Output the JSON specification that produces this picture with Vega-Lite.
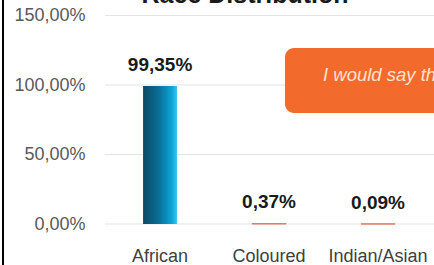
{
  "$schema": "https://vega.github.io/schema/vega-lite/v6.json",
  "width": 440,
  "height": 285,
  "autosize": {"type": "none"},
  "padding": {"left": 3, "top": -10, "right": 0, "bottom": 0},
  "background": "white",
  "title": {
    "text": "Race Distribution",
    "fontSize": 25,
    "font": "Liberation Sans",
    "fontWeight": "bold",
    "color": "#1a1a1a",
    "anchor": "middle",
    "frame": "group",
    "dx": 22,
    "offset": -38,
    "baseline": "alphabetic"
  },
  "datasets": {
    "race": [
      {"race": "African", "share": 0.9935},
      {"race": "Coloured", "share": 0.0037},
      {"race": "Indian/Asian", "share": 0.0009}
    ],
    "grid": [{"g": 0}, {"g": 0.5}, {"g": 1}, {"g": 1.5}]
  },
  "layer": [
    {
      "layer": [
        {
          "data": {"name": "grid"},
          "mark": {"type": "rule", "color": "#e3e3e3", "strokeWidth": 1},
          "encoding": {
            "y": {
              "field": "g",
              "type": "quantitative",
              "title": null,
              "scale": {"domain": [-0.3669, 1.6835], "nice": false, "zero": false},
              "axis": {
                "values": [0, 0.5, 1, 1.5],
                "format": ".2%",
                "orient": "left",
                "offset": -85,
                "domain": false,
                "ticks": false,
                "tickSize": 0,
                "labelPadding": 3,
                "labelFontSize": 18,
                "labelFont": "Liberation Sans",
                "labelColor": "#595959",
                "grid": false,
                "title": null
              }
            },
            "x": {"datum": 23.18, "type": "quantitative", "scale": {"domain": [0, 100], "nice": false, "zero": false}, "axis": null},
            "x2": {"datum": 100}
          }
        },
        {
          "data": {"values": [{}]},
          "mark": {"type": "rect", "color": "#f26a2c", "cornerRadius": 9},
          "encoding": {
            "x": {"datum": 64.09, "type": "quantitative"},
            "x2": {"datum": 106},
            "y": {"datum": 1.266, "type": "quantitative", "title": null},
            "y2": {"datum": 0.7986}
          }
        },
        {
          "data": {"values": [{}]},
          "mark": {
            "type": "text",
            "text": "I would say that...",
            "align": "left",
            "baseline": "middle",
            "fontStyle": "italic",
            "fontSize": 18.5,
            "font": "Liberation Sans",
            "color": "#fde3d2"
          },
          "encoding": {
            "x": {"datum": 72.73, "type": "quantitative"},
            "y": {"datum": 1.072, "type": "quantitative", "title": null}
          }
        }
      ]
    },
    {
      "data": {"name": "race"},
      "layer": [
        {
          "transform": [{"filter": "datum.race === 'African'"}],
          "mark": {
            "type": "bar",
            "color": {
              "gradient": "linear",
              "x1": 0, "y1": 0, "x2": 1, "y2": 0,
              "stops": [
                {"offset": 0, "color": "#0b4a66"},
                {"offset": 0.45, "color": "#0a6d94"},
                {"offset": 0.85, "color": "#0ba4d8"},
                {"offset": 1, "color": "#3cc6ee"}
              ]
            }
          },
          "encoding": {
            "x": {
              "field": "race",
              "type": "nominal",
              "sort": null,
              "title": null,
              "scale": {
                "domain": ["African", "Coloured", "Indian/Asian"],
                "paddingInner": 0.688,
                "paddingOuter": 0.8624,
                "align": 0.745
              },
              "axis": {
                "orient": "bottom",
                "offset": -28,
                "domain": false,
                "ticks": false,
                "tickSize": 0,
                "labelPadding": 0,
                "labelFontSize": 18,
                "labelFont": "Liberation Sans",
                "labelColor": "#404040",
                "labelAngle": 0,
                "title": null
              }
            },
            "y": {"field": "share", "type": "quantitative", "title": null}
          }
        },
        {
          "transform": [{"filter": "datum.race !== 'African'"}],
          "mark": {"type": "bar", "color": "#e27a5c", "stroke": "#e27a5c", "strokeWidth": 1},
          "encoding": {
            "x": {"field": "race", "type": "nominal", "sort": null, "title": null},
            "y": {"field": "share", "type": "quantitative", "title": null}
          }
        },
        {
          "mark": {
            "type": "text",
            "baseline": "alphabetic",
            "dy": -15,
            "fontSize": 19,
            "fontWeight": "bold",
            "font": "Liberation Sans",
            "color": "#1a1a1a"
          },
          "encoding": {
            "x": {"field": "race", "type": "nominal", "sort": null, "title": null},
            "y": {"field": "share", "type": "quantitative", "title": null},
            "text": {"field": "share", "type": "quantitative", "format": ".2%"}
          }
        }
      ]
    }
  ],
  "resolve": {"scale": {"x": "independent"}, "axis": {"x": "independent"}},
  "config": {
    "view": {"stroke": "#000000", "strokeWidth": 2},
    "locale": {
      "number": {"decimal": ",", "thousands": ".", "grouping": [3], "currency": ["", " €"]}
    }
  }
}
